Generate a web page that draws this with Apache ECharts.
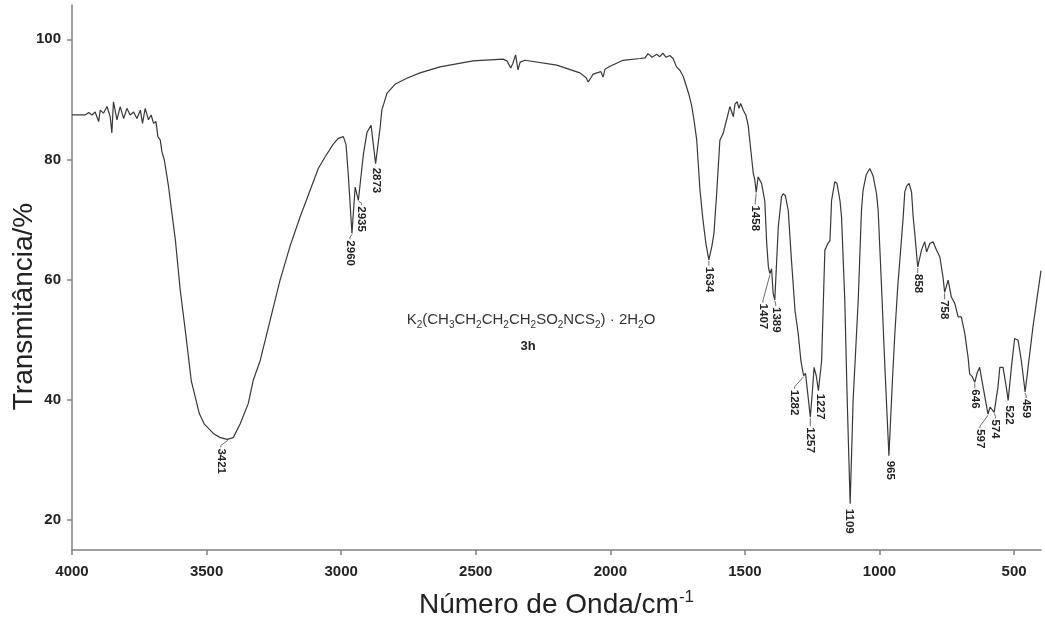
<!DOCTYPE html>
<html>
<head>
<meta charset="utf-8">
<script src="https://cdn.jsdelivr.net/npm/echarts@6/dist/echarts.min.js"></script>
<style>html,body{margin:0;padding:0;background:#fff}#c{width:1045px;height:617px}</style>
</head>
<body>
<div id="c"></div>
<script>
// ---- data ----
const wavenumbers = [4000,3951,3938,3926,3914,3901,3895,3883,3870,3858,3852,3846,3833,3821,3808,3796,3784,3771,3759,3746,3738,3728,3716,3706,3697,3688,3681,3672,3666,3657,3647,3641,3635,3616,3598,3579,3557,3527,3509,3475,3449,3423,3401,3375,3345,3327,3301,3264,3227,3189,3152,3115,3085,3060,3030,3011,2992,2982,2973,2960,2948,2936,2917,2904,2889,2872,2855,2849,2830,2800,2756,2707,2633,2510,2399,2384,2370,2362,2352,2343,2335,2317,2199,2113,2090,2082,2072,2064,2035,2027,2020,2001,1953,1890,1871,1860,1845,1828,1816,1805,1793,1779,1767,1754,1741,1729,1717,1708,1698,1689,1679,1667,1656,1645,1634,1623,1615,1605,1593,1581,1568,1556,1543,1537,1529,1522,1516,1506,1496,1488,1482,1469,1463,1458,1451,1446,1438,1432,1426,1419,1413,1410,1407,1401,1395,1389,1376,1364,1358,1350,1339,1327,1314,1302,1292,1282,1275,1265,1257,1250,1243,1235,1227,1215,1203,1192,1184,1178,1166,1158,1147,1141,1129,1120,1109,1098,1079,1067,1061,1049,1036,1024,1011,1005,993,980,965,952,943,932,925,918,912,906,899,890,881,875,869,858,844,832,825,813,801,788,776,764,758,745,733,720,708,696,683,671,665,655,646,637,628,615,597,589,574,560,553,541,529,522,510,498,485,473,459,448,430,416,401,400];
const transmittance = [87.4,87.4,87.8,87.4,87.9,86.3,88.2,87.7,88.8,87.1,84.4,89.6,86.6,88.8,86.8,88.5,87.4,87.9,86.8,88.2,86.0,88.5,86.6,87.4,86.0,86.3,83.8,83.2,81.3,79.9,77.1,75.4,73.2,66.6,58.3,51.5,43.2,37.7,36.0,34.4,33.7,33.4,33.7,36.0,39.4,43.2,46.5,53.2,59.9,65.7,70.5,74.9,78.5,80.4,82.5,83.5,83.8,82.5,77.1,67.7,75.4,73.2,81.0,84.5,85.7,79.3,85.4,88.2,91.0,92.5,93.5,94.4,95.4,96.4,96.7,96.4,95.2,96.0,97.4,94.9,96.2,96.5,95.7,94.4,93.6,92.9,93.6,94.2,94.6,93.7,95.0,95.5,96.5,96.8,96.9,97.6,97.0,97.5,97.1,97.7,97.0,97.3,96.8,95.4,94.8,93.8,92.1,90.8,89.0,86.5,83.2,74.9,70.0,66.0,63.3,65.5,67.7,74.3,83.2,84.3,86.6,88.8,87.1,89.2,89.6,88.5,89.3,88.2,87.3,85.7,83.2,77.7,76.5,74.5,77.1,77.3,76.0,76.2,73.0,66.0,62.2,61.5,61.0,61.8,57.7,56.6,68.8,73.8,74.3,74.0,71.5,63.2,54.9,51.0,46.5,44.0,44.4,40.4,37.1,41.0,45.4,44.0,41.5,46.5,64.9,66.0,66.5,73.2,76.3,76.0,73.2,70.4,56.6,40.0,22.7,39.9,56.6,71.5,74.9,77.5,78.5,77.3,74.3,71.5,59.4,45.4,30.7,43.2,51.0,59.0,62.9,63.2,70.4,74.6,75.6,76.0,74.6,70.5,67.7,62.1,64.9,66.3,64.6,66.0,66.3,64.9,63.8,60.4,57.9,59.9,57.1,56.0,53.8,53.8,51.0,47.1,44.3,43.8,42.9,44.5,45.4,42.1,37.6,38.8,37.9,42.1,45.4,45.4,42.1,39.9,45.4,50.2,49.9,46.5,41.3,45.4,52.1,56.5,61.2,61.5];

const peakLabels = ['3421','2960','2935','2873','1634','1458','1407','1389','1282','1257','1227','1109','965','858','758','646','597','574','522','459'];
const peakWn = [3421,2960,2935,2873,1634,1458,1407,1389,1282,1257,1227,1109,965,858,758,646,597,574,522,459];
const peakT = [33.4,67.7,73.2,79.3,63.3,74.5,61.0,56.6,44.0,37.1,41.5,22.7,30.7,62.1,57.9,42.9,37.6,37.9,39.9,41.3];

const xTicks = [4000,3500,3000,2500,2000,1500,1000,500];
const yTicks = [20,40,60,80,100];

// ---- layout (pixel offsets of label tops from the band minimum) ----
const labelOffsets = [[-7,9],[-2,7],[3,6],[1,4],[0,7],[-1,13],[-7,30],[1,7],[-9,14],[0,10],[1.5,3],[-1,5],[1,5],[0,7],[0,8],[0,7],[-8,15],[1.5,7],[1,5],[1,7]];

const spectrum = wavenumbers.map((w, i) => [w, transmittance[i]]);
const peaks = peakWn.map((w, i) => [w, peakT[i], i]);

const FONT = '"Liberation Sans", Arial, Helvetica, sans-serif';
const chart = echarts.init(document.getElementById('c'), null, {renderer: 'canvas'});
chart.setOption({
  animation: false,
  backgroundColor: '#fff',
  grid: {left: 72, right: 4, top: 5, bottom: 67, containLabel: false, outerBoundsMode: 'none'},
  xAxis: {
    type: 'value', inverse: true, min: 400, max: 4000,
    name: 'Número de Onda/cm{sup|-1}', nameLocation: 'middle', nameGap: 39,
    nameTextStyle: {fontFamily: FONT, fontSize: 28, color: '#222', lineHeight: 32,
      rich: {sup: {fontFamily: FONT, fontSize: 17, lineHeight: 19, verticalAlign: 'top', color: '#222'}}},
    axisLine: {show: true, lineStyle: {color: '#808080', width: 1.5}},
    axisTick: {show: true, length: 5, inside: false, customValues: xTicks, lineStyle: {color: '#808080', width: 1.5}},
    axisLabel: {customValues: xTicks, margin: 14, fontFamily: FONT, fontSize: 15, fontWeight: 'bold', color: '#222',
      formatter: function (v) { return String(v); }},
    splitLine: {show: false}
  },
  yAxis: {
    type: 'value', min: 15, max: 105.7,
    name: 'Transmitância/%', nameLocation: 'middle', nameGap: 34, nameMoveOverlap: false,
    nameTextStyle: {fontFamily: FONT, fontSize: 28, color: '#222', padding: [0, 58, 0, 0]},
    axisLine: {show: true, lineStyle: {color: '#808080', width: 1.5}},
    axisTick: {show: true, length: 5, inside: false, customValues: yTicks, lineStyle: {color: '#808080', width: 1.5}},
    axisLabel: {customValues: yTicks, margin: 11, fontFamily: FONT, fontSize: 15, fontWeight: 'bold', color: '#222',
      formatter: function (v) { return String(v); }},
    splitLine: {show: false}
  },
  series: [
    {
      type: 'line', data: spectrum, showSymbol: false, symbol: 'none', smooth: false,
      lineStyle: {color: '#383838', width: 1.2}, z: 3
    },
    {
      type: 'custom', data: peaks, z: 4,
      renderItem: function (params, api) {
        const i = api.value(2);
        const p = api.coord([api.value(0), api.value(1)]);
        const off = labelOffsets[i];
        const tx = p[0] + off[0], ty = p[1] + off[1];
        const children = [];
        if (off[1] > 5) {
          children.push({type: 'polyline', shape: {points: [[p[0], p[1] + 1], [tx, Math.max(p[1] + 1, ty - 3)], [tx, ty - 1]]},
            style: {stroke: '#444', lineWidth: 0.8, fill: null}});
        }
        children.push({type: 'text', x: tx, y: ty, rotation: -Math.PI / 2,
          style: {text: peakLabels[i], x: 0, y: 0, align: 'left', verticalAlign: 'middle',
            font: 'bold 11.5px ' + FONT, fill: '#222'}});
        return {type: 'group', children: children};
      }
    }
  ],
  graphic: [
    {type: 'text', x: 531, y: 320,
      style: {text: 'K{s|2}(CH{s|3}CH{s|2}CH{s|2}CH{s|2}SO{s|2}NCS{s|2}) · 2H{s|2}O',
        align: 'center', verticalAlign: 'middle', fontFamily: FONT, fontSize: 15, fill: '#333', lineHeight: 20,
        rich: {s: {fontFamily: FONT, fontSize: 10, lineHeight: 10, verticalAlign: 'bottom', fill: '#333'}}}},
    {type: 'text', x: 528, y: 346,
      style: {text: '3h', align: 'center', verticalAlign: 'middle', fontFamily: FONT, fontSize: 13, fontWeight: 'bold', fill: '#222'}}
  ]
});
</script>
</body>
</html>
